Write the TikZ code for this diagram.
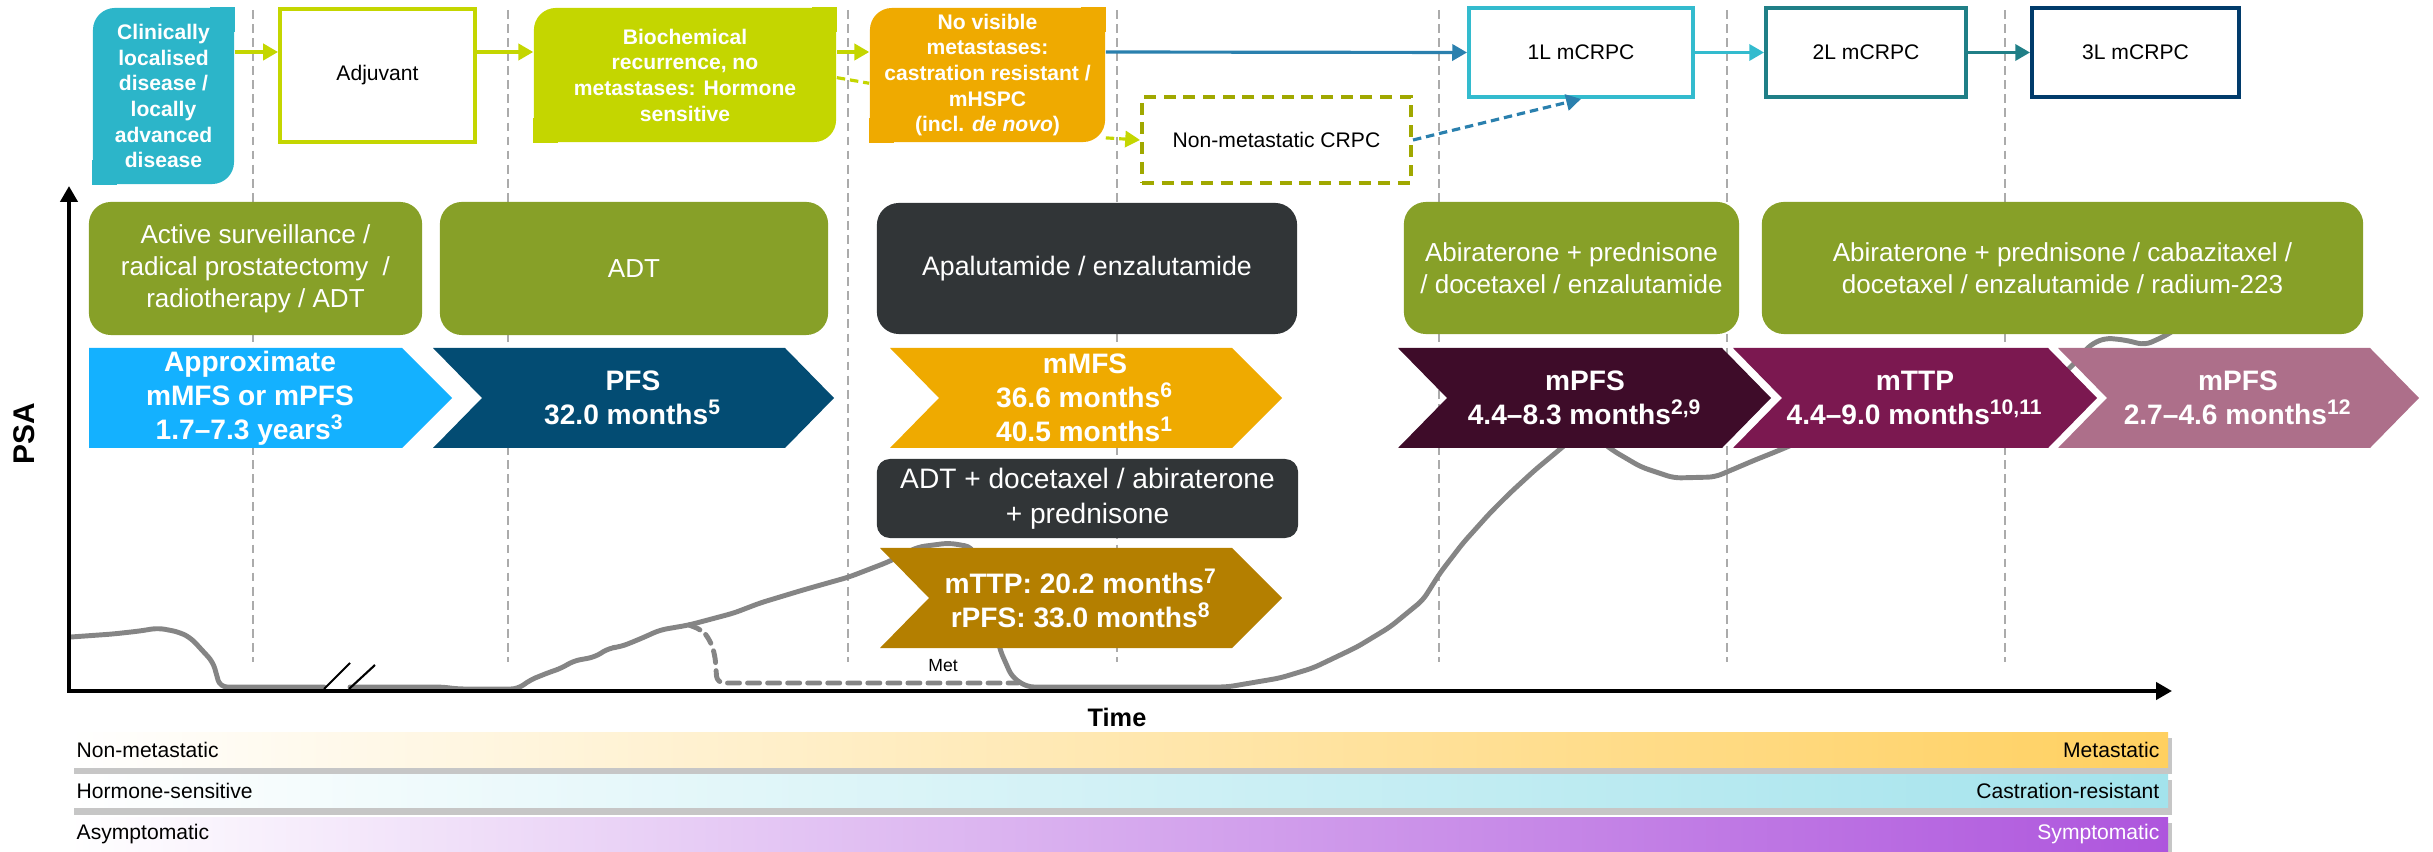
\documentclass[tikz,border=0pt]{standalone}
\usepackage{fontspec}
\setmainfont{Liberation Sans}
\usetikzlibrary{arrows.meta}

\definecolor{clinteal}{HTML}{2CB5C9}
\definecolor{limeg}{HTML}{C4D600}
\definecolor{ambr}{HTML}{EFAA00}
\definecolor{olivebox}{HTML}{87A028}
\definecolor{darkbox}{HTML}{313537}
\definecolor{skyb}{HTML}{14B1FF}
\definecolor{navyb}{HTML}{034C73}
\definecolor{goldb}{HTML}{B47F00}
\definecolor{maroonb}{HTML}{3E0C29}
\definecolor{plumb}{HTML}{7B1850}
\definecolor{roseb}{HTML}{AD6F8A}
\definecolor{arrowblue}{HTML}{2A80AE}
\definecolor{dashol}{HTML}{A0A800}
\definecolor{cyanl}{HTML}{33BBCE}
\definecolor{tealb}{HTML}{207F87}
\definecolor{navyl}{HTML}{013B6B}
\definecolor{psagrey}{HTML}{858585}
\definecolor{sepgrey}{HTML}{ABABAB}
\definecolor{barA}{HTML}{FFD060}
\definecolor{barB}{HTML}{A3E3EC}
\definecolor{barC}{HTML}{AE55DD}

\begin{document}
\begin{tikzpicture}[x=0.01cm, y=-0.01cm,
topnode/.style={rectangle, inner sep=0pt, align=center, text=white, rounded corners=0.22cm, font=\fontsize{6}{7.3}\selectfont\bfseries},
linenode/.style={rectangle, inner sep=0pt, align=center, fill=white, line width=1.1pt, font=\fontsize{6}{7.3}\selectfont},
greennode/.style={rectangle, inner sep=0pt, align=center, text=white, fill=olivebox, rounded corners=0.22cm, font=\fontsize{7.4}{9.1}\selectfont},
darknode/.style={greennode, fill=darkbox},
chevtext/.style={align=center, inner sep=0pt, text=white, font=\fontsize{8}{9.7}\selectfont\bfseries},
flowarrow/.style={line width=0.9pt, -{Triangle[length=4.2pt,width=4.6pt]}},
dasharrow/.style={line width=0.9pt, dash pattern=on 2.4pt off 1.4pt, -{Triangle[length=4.2pt,width=4.6pt]}},
sepline/.style={sepgrey, line width=0.45pt, dash pattern=on 2.5pt off 1.5pt},
psaline/.style={psagrey, line width=1.4pt, rounded corners=2pt, line join=round, line cap=round},
axisline/.style={line width=1.2pt, {Triangle[length=4.5pt,width=4.8pt]}-{Triangle[length=4.5pt,width=4.8pt]}},
barlabel/.style={inner sep=0pt, font=\fontsize{6}{7}\selectfont},
]
\useasboundingbox (0,0) rectangle (2433,852);

%Grid
\foreach \xs in {253,508,848,1117,1439,1727,2005}
  \draw[sepline] (\xs,10) -- (\xs,662);

%PSA curve
\draw[psaline] (71,637) -- (113,634) -- (140,631) -- (158,628) -- (179,632) -- (191,638) -- (200,648) -- (213,662) -- (220,687) -- (324,687);
\draw[psaline] (350,687) -- (442,687) -- (458,689) -- (518,689) -- (530,680) -- (550,672) -- (562,668) -- (573,661) -- (595,657) -- (609,648) -- (620,647) -- (640,639) -- (660,630) -- (689,625) -- (734,613) -- (760,603) -- (803,590) -- (849,577) -- (888,562) -- (918,547) -- (949,543) -- (972,547) -- (990,600) -- (1000,650) -- (1012,677) -- (1027,687) -- (1227,687) -- (1280,678) -- (1313,668) -- (1357,647) -- (1390,627) -- (1423,600) -- (1440,573) -- (1463,543) -- (1490,513) -- (1510,493) -- (1535,470) -- (1559,450) -- (1585,428) -- (1612,450) -- (1641,467) -- (1674,478) -- (1715,477) -- (1755,460) -- (1780,450) -- (1850,420) -- (2000,400) -- (2050,385) -- (2071,367) -- (2090,345) -- (2105,338) -- (2125,340) -- (2145,345) -- (2165,336) -- (2190,320);
\draw[psaline, dash pattern=on 3.4pt off 2.3pt] (689,625) -- (702,630) -- (710,640) -- (715,655) -- (717,683) -- (1018,683);
\draw[line width=0.6pt] (324,689) -- (350,663);
\draw[line width=0.6pt] (349,689) -- (375,665);

%Axes
\coordinate (origin) at (69,691);
\coordinate (ytop) at (69,186);
\coordinate (xend) at (2172,691);
\draw[axisline] (ytop) -- (origin) -- (xend);
\node[font=\fontsize{8.5}{10}\selectfont\bfseries, rotate=90] (psa) at (24,434) {PSA};
\node[font=\fontsize{7.2}{8}\selectfont\bfseries] (time) at (1117,717) {Time};
\node[font=\fontsize{5}{6}\selectfont] (met) at (943,666) {Met};

%Top row
\coordinate (row) at (0,52);
\node[topnode, fill=clinteal, minimum width=1.41cm, minimum height=1.76cm] (clin) at (163.5,96) {Clinically\\localised\\disease /\\locally\\advanced\\disease};
\node[linenode, draw=limeg, minimum width=1.95cm, minimum height=1.33cm] (adj) at (377.5,75.5) {Adjuvant};
\node[topnode, fill=limeg, minimum width=3.02cm, minimum height=1.34cm] (bio) at (685,75) {Biochemical\\recurrence, no\\metastases: Hormone\\sensitive};
\node[topnode, fill=ambr, minimum width=2.35cm, minimum height=1.34cm] (novis) at (987.5,75) {No visible\\metastases:\\castration resistant /\\mHSPC\\(incl. \textit{de novo})};
\node[linenode, draw=dashol, dash pattern=on 3.4pt off 2.2pt, minimum width=2.69cm, minimum height=0.86cm] (nmcrpc) at (1276.5,140) {Non-metastatic CRPC};
\node[linenode, draw=cyanl, minimum width=2.24cm, minimum height=0.89cm] (l1) at (1581,52.5) {1L mCRPC};
\node[linenode, draw=tealb, minimum width=2.0cm, minimum height=0.89cm] (l2) at (1866,52.5) {2L mCRPC};
\node[linenode, draw=navyl, minimum width=2.07cm, minimum height=0.89cm] (l3) at (2135.5,52.5) {3L mCRPC};
\fill[clinteal] (clin.north east) rectangle ++(-25,25);
\fill[clinteal] (clin.south west) rectangle ++(25,-25);
\fill[limeg] (bio.north east) rectangle ++(-25,25);
\fill[limeg] (bio.south west) rectangle ++(25,-25);
\fill[ambr] (novis.north east) rectangle ++(-25,25);
\fill[ambr] (novis.south west) rectangle ++(25,-25);

%Lines
\draw[flowarrow, limeg] (clin.east |- row) -- (adj.west |- row);
\draw[flowarrow, limeg] (adj.east |- row) -- (bio.west |- row);
\draw[flowarrow, limeg] (bio.east |- row) -- (novis.west |- row);
\draw[limeg, line width=0.9pt, dash pattern=on 2.4pt off 1.4pt] (bio.359) -- (novis.184);
\draw[dasharrow, limeg] (novis.-28) -- (nmcrpc.west);
\draw[flowarrow, arrowblue] (novis.east |- row) -- (l1.west);
\draw[dasharrow, arrowblue] (nmcrpc.east) -- (l1.south);
\draw[flowarrow, cyanl] (l1.east) -- (l2.west);
\draw[flowarrow, tealb] (l2.east) -- (l3.west);

%Treatments
\node[greennode, minimum width=3.33cm, minimum height=1.33cm] (trtlocal) at (255.5,268.5) {Active surveillance /\\radical prostatectomy~~/\\radiotherapy / ADT};
\node[greennode, minimum width=3.88cm, minimum height=1.33cm] (trtadt) at (634,268.5) {ADT};
\node[darknode, minimum width=4.2cm, minimum height=1.31cm, font=\fontsize{7.6}{9.1}\selectfont] (trtapa) at (1087,268.5) {Apalutamide / enzalutamide};
\node[darknode, minimum width=4.21cm, minimum height=0.79cm, rounded corners=0.13cm, font=\fontsize{8}{10}\selectfont] (trtdoc) at (1087.5,498.5) {ADT + docetaxel / abiraterone\\+ prednisone};
\node[greennode, minimum width=3.35cm, minimum height=1.32cm] (trtfirst) at (1571.5,268) {Abiraterone + prednisone\\/ docetaxel / enzalutamide};
\node[greennode, minimum width=6.01cm, minimum height=1.32cm] (trtlater) at (2062.5,268) {Abiraterone + prednisone / cabazitaxel /\\docetaxel / enzalutamide / radium-223};

%Chevrons
\fill[skyb] (89,348) -- (402,348) -- (452,398) -- (402,448) -- (89,448) -- cycle;
\fill[navyb] (433,348) -- (785,348) -- (834,398) -- (785,448) -- (433,448) -- (482,398) -- cycle;
\fill[ambr] (890,348) -- (1232,348) -- (1282,398) -- (1232,448) -- (890,448) -- (939,398) -- cycle;
\fill[goldb] (880,548) -- (1232,548) -- (1282,598) -- (1232,648) -- (880,648) -- (929,598) -- cycle;
\fill[maroonb] (1398,348) -- (1722,348) -- (1771,398) -- (1722,448) -- (1398,448) -- (1447,398) -- cycle;
\fill[plumb] (1733,348) -- (2048,348) -- (2097,398) -- (2048,448) -- (1733,448) -- (1782,398) -- cycle;
\fill[roseb] (2058,348) -- (2370,348) -- (2419,398) -- (2370,448) -- (2058,448) -- (2107,398) -- cycle;

%Text
\node[chevtext] (approx) at (250,398) {Approximate\\mMFS or mPFS\\1.7--7.3 years\textsuperscript{3}};
\node[chevtext] (pfs) at (633,398) {PFS\\32.0 months\textsuperscript{5}};
\node[chevtext] (mmfs) at (1085,398) {mMFS\\36.6 months\textsuperscript{6}\\40.5 months\textsuperscript{1}};
\node[chevtext] (mttp) at (1081,598) {mTTP: 20.2 months\textsuperscript{7}\\rPFS: 33.0 months\textsuperscript{8}};
\node[chevtext] (mpfsA) at (1585,398) {mPFS\\4.4--8.3 months\textsuperscript{2,9}};
\node[chevtext] (mttpB) at (1915,398) {mTTP\\4.4--9.0 months\textsuperscript{10,11}};
\node[chevtext] (mpfsC) at (2238,398) {mPFS\\2.7--4.6 months\textsuperscript{12}};

%Bars
\fill[gray!45] (74,738) rectangle (2172,774);
\shade[left color=white, middle color=barA!35, right color=barA] (70,732) rectangle (2168,767);
\fill[gray!45] (74,780) rectangle (2172,815);
\shade[left color=white, middle color=barB!35, right color=barB] (70,774) rectangle (2168,807);
\fill[gray!45] (74,823) rectangle (2172,858);
\shade[left color=white, middle color=barC!35, right color=barC] (70,817) rectangle (2168,851);
\node[barlabel, anchor=west] (nonmet) at (76,749.5) {Non-metastatic};
\node[barlabel, anchor=east] (metas) at (2160,749.5) {Metastatic};
\node[barlabel, anchor=west] (hormsens) at (76,790.5) {Hormone-sensitive};
\node[barlabel, anchor=east] (castres) at (2160,790.5) {Castration-resistant};
\node[barlabel, anchor=west] (asym) at (76,834) {Asymptomatic};
\node[barlabel, anchor=east, text=white] (sym) at (2160,834) {Symptomatic};
\end{tikzpicture}
\end{document}
